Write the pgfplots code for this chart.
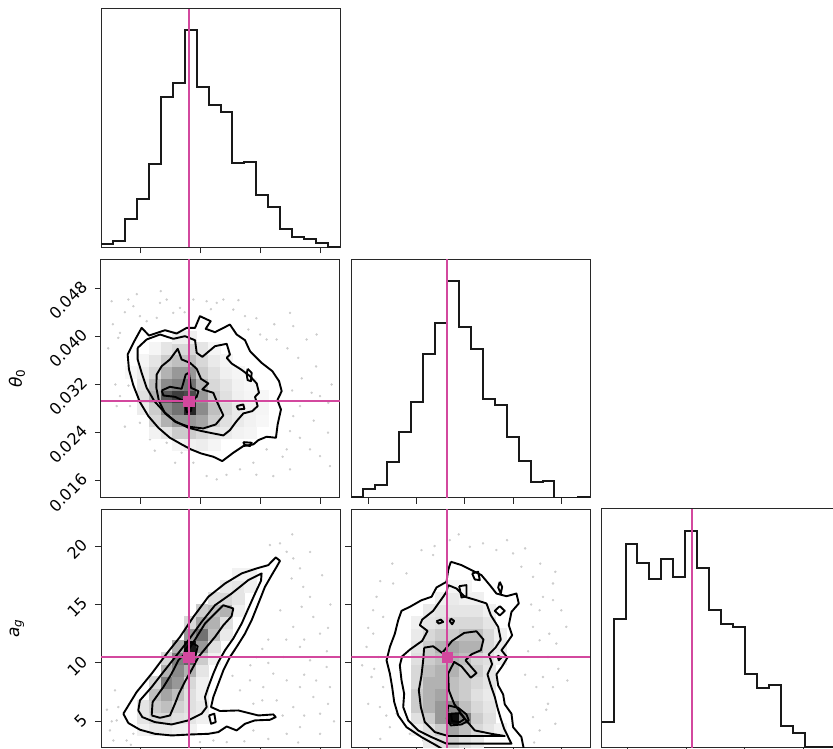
\documentclass[border=0pt]{standalone}
\usepackage{fontspec}
\setmainfont{DejaVu Sans}
\usepackage{pgfplots}
\pgfplotsset{compat=1.18}
\definecolor{truth}{RGB}{211,72,158}
\definecolor{frame}{RGB}{40,40,40}
\pgfplotsset{
  cpCorner/.style={
    scale only axis, width=239pt, height=238.5pt, anchor=south west,
    axis line style={line width=1pt, draw=frame},
    major tick length=6pt,
    tick style={line width=1pt, color=frame},
    tick align=outside, xtick pos=left, ytick pos=left,
    scaled ticks=false, clip marker paths=true,
    xticklabels={}, yticklabels={},
    tick label style={font=\fontsize{16}{19}\selectfont},
    label style={font=\fontsize{17}{20}\selectfont},
    ylabel style={at={(axis description cs:-0.352,0.5)}, anchor=center},
    yticklabel style={rotate=45, anchor=south east, inner sep=0pt},
    yticklabel shift=6pt,
  },
  cpTwoD/.style={colormap={bwg}{gray(0cm)=(1); gray(1cm)=(0)}, point meta min=0, point meta max=1},
  cpVx/.style={xmin=0, xmax=20, xtick={3.32,8.34,13.36,18.38}},
  cpTx/.style={xmin=0.0132, xmax=0.0528, xtick={0.016,0.024,0.032,0.040,0.048}},
  cpAx/.style={xmin=2.77, xmax=23.17, xtick={5,10,15,20}},
  cpTy/.style={ymin=0.0132, ymax=0.0528, ytick={0.016,0.024,0.032,0.040,0.048}},
  cpAy/.style={ymin=2.77, ymax=23.17, ytick={5,10,15,20}},
  cpHist/.style={ymin=0, ymax=715, ytick=\empty},
  cpHline/.style={const plot mark left, black!90, line width=2pt},
  cpCont/.style={black, line width=1.9pt, line join=round},
  cpTline/.style={truth, line width=2pt},
  cpTmark/.style={only marks, mark=square*, mark size=5.3pt, truth},
  cpPts/.style={only marks, mark=*, mark size=1pt, black!20},
  cpCells/.style={scatter, only marks, mark=square*, mark size=6pt,
    scatter/use mapped color={draw=mapped color, fill=mapped color}},
}
\begin{document}
\begin{tikzpicture}

% ---------- (1,1) histogram of var 1
\begin{axis}[cpCorner, cpHist, cpVx, at={(101pt,500.7pt)}]
\addplot[cpHline] coordinates {(0,9)(1,19)(2,85)(3,145)(4,250)(5,450)(6,492)(7,650)(8,482)(9,427)(10,407)(11,252)(12,257)(13,157)(14,120)(15,54)(16,32)(17,24)(18,12)(19,2)(20,2)};
\addplot[cpTline] coordinates {(7.36,0)(7.36,715)};
\end{axis}

% ---------- (2,1) var1 vs theta0
\begin{axis}[cpCorner, cpTwoD, cpVx, cpTy, at={(101pt,250.3pt)},
  yticklabels={0.016,0.024,0.032,0.040,0.048},
  ylabel={\textit{θ}\textsubscript{0}}]
\addplot[cpPts] coordinates {(0.89,0.04583)(1.45,0.03974)(1.59,0.04057)(2.29,0.04610)(2.71,0.04500)(3.26,0.04334)(3.82,0.04251)(4.66,0.04306)(4.94,0.04555)(5.50,0.04610)(6.05,0.04389)(6.61,0.04472)(7.73,0.04610)(8.84,0.04583)(9.68,0.04555)(10.24,0.04610)(11.07,0.04444)(12.05,0.04334)(12.33,0.04112)(13.31,0.04030)(13.86,0.03947)(14.70,0.03947)(15.82,0.04389)(16.09,0.04168)(16.51,0.03642)(17.21,0.03947)(18.05,0.04030)(17.63,0.03062)(18.33,0.03006)(19.02,0.02896)(16.65,0.02841)(16.09,0.02675)(15.82,0.02426)(16.65,0.02315)(17.49,0.02122)(18.33,0.02011)(15.54,0.02122)(13.86,0.02122)(12.75,0.01900)(11.63,0.01790)(9.68,0.01624)(8.84,0.01679)(7.73,0.01900)(6.75,0.02066)(5.50,0.02232)(4.80,0.02343)(4.10,0.02288)(3.26,0.02564)(2.43,0.02841)(1.59,0.03006)(1.31,0.02841)(2.30,0.03180)(2.10,0.03394)(15.82,0.01790)(19.16,0.01845)(14.42,0.01679)(1.0,0.0420)(0.6,0.0380)(2.0,0.0440)(3.0,0.0470)(5.0,0.0475)(7.0,0.0440)(9.2,0.0445)(11.5,0.0460)(13.0,0.0430)(14.5,0.0420)(16.8,0.0330)(18.0,0.0350)(19.3,0.0320)(17.8,0.0260)(19.0,0.0240)(15.2,0.0200)(13.0,0.0170)(10.5,0.0170)(6.2,0.0190)(4.5,0.0210)(2.0,0.0250)(1.2,0.0320)(16.0,0.0310)(15.6,0.0380)};
\addplot[cpCells, point meta=explicit] table[x=x, y=y, meta=c] {
x y c
6.5 0.02211 0.04
7.5 0.02211 0.06
8.5 0.02211 0.07
9.5 0.02211 0.04
4.5 0.02409 0.05
5.5 0.02409 0.10
6.5 0.02409 0.20
7.5 0.02409 0.20
8.5 0.02409 0.15
9.5 0.02409 0.10
10.5 0.02409 0.08
11.5 0.02409 0.05
12.5 0.02409 0.04
4.5 0.02607 0.15
5.5 0.02607 0.30
6.5 0.02607 0.40
7.5 0.02607 0.40
8.5 0.02607 0.35
9.5 0.02607 0.20
10.5 0.02607 0.12
11.5 0.02607 0.08
12.5 0.02607 0.05
13.5 0.02607 0.03
3.5 0.02805 0.07
4.5 0.02805 0.20
5.5 0.02805 0.45
6.5 0.02805 0.55
7.5 0.02805 0.85
8.5 0.02805 0.45
9.5 0.02805 0.25
10.5 0.02805 0.15
11.5 0.02805 0.08
12.5 0.02805 0.05
13.5 0.02805 0.04
3.5 0.03003 0.12
4.5 0.03003 0.30
5.5 0.03003 0.65
6.5 0.03003 0.75
7.5 0.03003 0.70
8.5 0.03003 0.40
9.5 0.03003 0.20
10.5 0.03003 0.12
11.5 0.03003 0.06
12.5 0.03003 0.04
13.5 0.03003 0.03
3.5 0.03201 0.10
4.5 0.03201 0.25
5.5 0.03201 0.45
6.5 0.03201 0.50
7.5 0.03201 0.55
8.5 0.03201 0.30
9.5 0.03201 0.15
10.5 0.03201 0.10
11.5 0.03201 0.05
12.5 0.03201 0.03
2.5 0.03399 0.03
3.5 0.03399 0.07
4.5 0.03399 0.15
5.5 0.03399 0.30
6.5 0.03399 0.40
7.5 0.03399 0.40
8.5 0.03399 0.20
9.5 0.03399 0.12
10.5 0.03399 0.06
11.5 0.03399 0.04
3.5 0.03597 0.04
4.5 0.03597 0.10
5.5 0.03597 0.20
6.5 0.03597 0.25
7.5 0.03597 0.25
8.5 0.03597 0.15
9.5 0.03597 0.08
10.5 0.03597 0.04
4.5 0.03795 0.04
5.5 0.03795 0.10
6.5 0.03795 0.15
7.5 0.03795 0.15
8.5 0.03795 0.10
9.5 0.03795 0.04
6.5 0.03993 0.06
7.5 0.03993 0.06
};
\addplot[cpCont] coordinates {(2.23,0.03698)(2.71,0.03891)(3.40,0.04140)(4.02,0.04013)(5.36,0.04101)(6.33,0.04046)(7.17,0.04140)(7.87,0.04140)(8.28,0.04334)(9.18,0.04251)(8.76,0.04124)(9.54,0.04068)(10.79,0.04195)(11.35,0.04030)(12.05,0.03935)(12.47,0.03753)(13.44,0.03559)(14.34,0.03421)(14.90,0.03255)(15.12,0.03089)(14.76,0.02940)(15.06,0.02785)(14.78,0.02536)(14.64,0.02315)(13.86,0.02332)(13.17,0.02276)(12.75,0.02205)(11.91,0.02177)(11.07,0.02066)(10.15,0.01928)(9.40,0.02000)(8.37,0.02055)(7.53,0.02122)(6.75,0.02205)(5.77,0.02315)(4.80,0.02481)(3.96,0.02675)(3.26,0.02907)(2.71,0.03183)(2.34,0.03449)(2.23,0.03698)};
\addplot[cpCont] coordinates {(3.07,0.03808)(3.82,0.03947)(4.94,0.04030)(6.05,0.03958)(7.03,0.04002)(7.87,0.03935)(8.01,0.03725)(8.48,0.03659)(9.54,0.03836)(10.52,0.03875)(10.79,0.03698)(10.52,0.03642)(10.93,0.03548)(11.72,0.03449)(12.47,0.03338)(13.03,0.03217)(13.22,0.03062)(12.89,0.02995)(13.11,0.02841)(12.66,0.02758)(11.91,0.02719)(11.35,0.02592)(10.79,0.02442)(10.24,0.02354)(9.40,0.02387)(8.42,0.02426)(7.31,0.02481)(6.19,0.02592)(5.30,0.02741)(4.46,0.02924)(3.82,0.03145)(3.40,0.03394)(3.07,0.03615)(3.07,0.03808)};
\addplot[cpCont] coordinates {(4.66,0.03366)(5.08,0.03504)(5.77,0.03615)(6.42,0.03792)(6.75,0.03615)(7.45,0.03559)(8.01,0.03460)(8.37,0.03294)(8.98,0.03217)(8.48,0.03117)(9.40,0.03062)(9.68,0.02924)(10.24,0.02686)(9.60,0.02536)(8.56,0.02470)(7.36,0.02498)(6.25,0.02575)(5.36,0.02719)(4.85,0.02924)(4.63,0.03145)(4.66,0.03366)};
\addplot[cpCont] coordinates {(5.08,0.03100)(5.77,0.03161)(6.75,0.03128)(7.09,0.03366)(7.36,0.03394)(7.53,0.03145)(8.15,0.03089)(8.01,0.02995)(7.64,0.02940)(7.53,0.02758)(7.17,0.02741)(6.97,0.02924)(6.19,0.02995)(5.22,0.03017)(5.08,0.03100)};
\addplot[cpCont] coordinates {(12.27,0.03460)(12.61,0.03394)(12.55,0.03255)(12.27,0.03272)(12.19,0.03366)(12.27,0.03460)};
\addplot[cpCont] coordinates {(11.35,0.02841)(11.91,0.02868)(12.00,0.02796)(11.49,0.02785)(11.35,0.02841)};
\addplot[cpCont] coordinates {(11.91,0.02243)(12.61,0.02232)(12.47,0.02177)(12.00,0.02199)(11.91,0.02243)};
\addplot[cpTline] coordinates {(7.36,0.0132)(7.36,0.0528)};
\addplot[cpTline] coordinates {(0,0.0292)(20,0.0292)};
\addplot[cpTmark] coordinates {(7.36,0.0292)};
\end{axis}

% ---------- (2,2) histogram of theta0
\begin{axis}[cpCorner, cpHist, cpTx, at={(351.3pt,250.3pt)}]
\addplot[cpHline] coordinates {(0.0132,2)(0.01518,25)(0.01716,38)(0.01914,107)(0.02112,196)(0.0231,288)(0.02508,431)(0.02706,525)(0.02904,650)(0.03102,513)(0.033,445)(0.03498,296)(0.03696,278)(0.03894,183)(0.04092,110)(0.0429,46)(0.04488,51)(0.04686,0)(0.04884,0)(0.05082,2)(0.0528,2)};
\addplot[cpTline] coordinates {(0.0291,0)(0.0291,715)};
\end{axis}

% ---------- (3,1) var1 vs a_g
\begin{axis}[cpCorner, cpTwoD, cpVx, cpAy, at={(101pt,0.5pt)},
  yticklabels={5,10,15,20},
  ylabel={\textit{a}\textsubscript{\textit{g}}}]
\addplot[cpPts] coordinates {(14.14,20.09)(14.98,20.23)(15.54,19.51)(16.09,18.94)(16.65,18.09)(15.95,17.23)(16.93,16.51)(17.49,15.66)(16.79,14.80)(17.77,13.94)(16.09,13.09)(18.33,12.51)(16.65,11.37)(15.26,10.51)(17.49,10.23)(18.88,9.66)(14.42,9.09)(15.54,8.51)(16.65,7.94)(17.77,7.09)(18.33,5.66)(16.09,6.23)(14.70,6.80)(13.58,7.94)(12.47,8.51)(11.63,7.66)(12.75,6.51)(19.16,7.94)(16.65,4.51)(15.54,3.94)(18.33,3.94)(0.75,4.23)(1.31,5.09)(1.03,3.37)(2.15,3.37)(2.71,3.94)(12.75,4.23)(9.40,3.37)(8.28,3.23)(10.52,3.23)(1.17,7.66)(1.45,6.23)(13.00,10.50)(14.00,12.00)(15.00,14.50)(13.50,11.20)(17.00,12.00)(18.90,11.00)(19.50,5.00)(16.0,21.0)(17.5,19.5)(18.5,17.5)(19.2,15.0)(19.0,13.0)(15.5,12.0)(14.0,10.0)(12.5,9.8)(11.0,8.9)(17.0,9.0)(18.0,8.5)(13.5,6.8)(15.2,5.5)(17.0,5.5)(19.0,6.5)(14.0,3.5)(12.0,3.3)(0.5,6.0)(0.9,5.0)(2.5,3.0)(16.5,3.2)};
\addplot[cpCells, point meta=explicit] table[x=x, y=y, meta=c] {
x y c
3.5 4.30 0.05
4.5 4.30 0.08
5.5 4.30 0.08
6.5 4.30 0.06
7.5 4.30 0.05
3.5 5.32 0.10
4.5 5.32 0.15
5.5 5.32 0.15
6.5 5.32 0.12
7.5 5.32 0.10
8.5 5.32 0.06
3.5 6.34 0.10
4.5 6.34 0.20
5.5 6.34 0.25
6.5 6.34 0.18
7.5 6.34 0.12
8.5 6.34 0.08
4.5 7.36 0.25
5.5 7.36 0.35
6.5 7.36 0.25
7.5 7.36 0.12
8.5 7.36 0.06
4.5 8.38 0.15
5.5 8.38 0.50
6.5 8.38 0.40
7.5 8.38 0.15
8.5 8.38 0.06
5.5 9.40 0.30
6.5 9.40 0.45
7.5 9.40 0.30
8.5 9.40 0.10
5.5 10.42 0.15
6.5 10.42 0.50
7.5 10.42 0.60
8.5 10.42 0.20
9.5 10.42 0.06
6.5 11.44 0.30
7.5 11.44 0.90
8.5 11.44 0.40
9.5 11.44 0.12
7.5 12.46 0.40
8.5 12.46 0.55
9.5 12.46 0.25
10.5 12.46 0.08
7.5 13.48 0.15
8.5 13.48 0.35
9.5 13.48 0.30
10.5 13.48 0.12
8.5 14.50 0.20
9.5 14.50 0.25
10.5 14.50 0.30
11.5 14.50 0.06
9.5 15.52 0.12
10.5 15.52 0.15
11.5 15.52 0.10
10.5 16.54 0.08
11.5 16.54 0.10
12.5 16.54 0.06
11.5 17.56 0.05
12.5 17.56 0.05
};
\addplot[cpCont] coordinates {(1.87,5.66)(2.98,7.51)(4.24,9.09)(5.50,10.80)(6.61,12.23)(7.73,13.94)(8.98,15.66)(10.38,16.80)(11.77,17.66)(13.03,18.09)(14.00,18.37)(14.62,19.03)(14.98,18.74)(14.70,18.23)(14.28,17.51)(13.72,16.51)(13.17,15.09)(12.61,13.66)(12.05,12.51)(11.35,11.37)(10.79,10.51)(10.24,9.37)(9.82,8.23)(9.40,7.09)(9.21,6.23)(9.96,5.89)(11.49,5.94)(13.17,5.51)(14.42,5.60)(14.62,5.37)(14.14,5.14)(12.89,5.09)(12.05,4.80)(11.35,4.23)(10.52,4.57)(9.82,4.09)(8.98,3.94)(7.59,3.89)(5.91,3.80)(4.52,3.94)(3.26,4.29)(2.29,4.86)(1.87,5.66)};
\addplot[cpCont] coordinates {(3.12,5.94)(3.26,6.80)(4.24,7.94)(5.22,9.23)(6.33,10.66)(7.31,11.94)(8.42,13.51)(9.54,14.94)(10.93,15.94)(12.33,17.09)(13.44,17.66)(13.39,17.03)(12.89,15.94)(12.33,14.66)(11.77,13.37)(11.07,12.09)(10.38,11.09)(9.82,10.09)(9.40,9.09)(8.98,7.94)(8.70,7.09)(8.84,6.23)(8.42,5.66)(7.31,5.09)(5.91,4.74)(4.52,4.94)(3.46,5.37)(3.12,5.94)};
\addplot[cpCont] coordinates {(4.24,5.51)(4.32,6.66)(5.22,7.94)(5.91,9.09)(6.47,10.23)(7.31,11.09)(8.01,12.23)(8.70,13.37)(9.54,14.23)(10.24,14.94)(11.07,14.66)(10.93,14.00)(10.24,13.23)(9.54,12.23)(8.84,11.37)(8.15,10.51)(7.64,9.51)(7.08,8.51)(6.52,7.37)(6.19,6.51)(5.77,5.51)(4.94,5.31)(4.24,5.51)};
\addplot[cpCont] coordinates {(7.03,11.09)(7.53,11.80)(8.09,11.43)(7.92,10.66)(7.36,10.23)(6.92,10.51)(7.03,11.09)};
\addplot[cpCont] coordinates {(9.04,5.51)(9.48,5.66)(9.60,4.94)(9.21,4.80)(9.04,5.51)};
\addplot[cpTline] coordinates {(7.36,2.77)(7.36,23.17)};
\addplot[cpTline] coordinates {(0,10.48)(20,10.48)};
\addplot[cpTmark] coordinates {(7.36,10.48)};
\end{axis}

% ---------- (3,2) theta0 vs a_g
\begin{axis}[cpCorner, cpTwoD, cpTx, cpAy, at={(351.3pt,0.5pt)}]
\addplot[cpPts] coordinates {(0.02483,19.66)(0.02676,19.23)(0.02952,20.51)(0.03283,19.94)(0.03503,20.23)(0.03724,19.66)(0.04000,19.37)(0.04138,18.23)(0.04331,17.37)(0.04496,15.66)(0.04441,14.51)(0.04662,15.37)(0.04331,13.09)(0.04441,11.94)(0.04579,10.51)(0.04496,8.80)(0.04386,7.94)(0.04662,7.94)(0.04579,6.51)(0.04331,5.37)(0.04441,4.23)(0.02234,17.66)(0.02014,16.80)(0.01738,15.66)(0.01683,14.51)(0.01848,13.94)(0.01683,12.51)(0.01572,11.37)(0.01766,10.51)(0.01655,8.80)(0.01848,7.94)(0.01793,6.23)(0.02069,5.66)(0.02290,3.94)(0.02510,3.37)(0.01959,4.51)(0.04717,11.66)(0.04883,13.09)(0.04662,16.80)(0.0270,20.0)(0.0310,21.0)(0.0390,20.5)(0.0420,19.8)(0.0445,18.5)(0.0470,17.8)(0.0480,14.5)(0.0460,12.5)(0.0475,9.5)(0.0490,8.5)(0.0455,6.0)(0.0470,4.8)(0.0435,3.2)(0.0200,18.5)(0.0180,17.0)(0.0160,13.0)(0.0150,9.8)(0.0170,9.5)(0.0160,6.5)(0.0190,5.5)(0.0180,3.5)(0.0420,9.0)(0.0425,11.0)(0.0430,15.0)};
\addplot[cpCells, point meta=explicit] table[x=x, y=y, meta=c] {
x y c
0.02607 3.28 0.08
0.02805 3.28 0.12
0.03003 3.28 0.20
0.03201 3.28 0.12
0.03399 3.28 0.08
0.02409 4.30 0.06
0.02607 4.30 0.12
0.02805 4.30 0.20
0.03003 4.30 0.35
0.03201 4.30 0.25
0.03399 4.30 0.15
0.03597 4.30 0.10
0.03795 4.30 0.05
0.02409 5.32 0.12
0.02607 5.32 0.20
0.02805 5.32 0.40
0.03003 5.32 0.95
0.03201 5.32 0.50
0.03399 5.32 0.20
0.03597 5.32 0.12
0.02409 6.34 0.20
0.02607 6.34 0.30
0.02805 6.34 0.40
0.03003 6.34 0.45
0.03201 6.34 0.25
0.03399 6.34 0.15
0.03597 6.34 0.10
0.02409 7.36 0.20
0.02607 7.36 0.30
0.02805 7.36 0.35
0.03003 7.36 0.25
0.03201 7.36 0.20
0.03399 7.36 0.12
0.03597 7.36 0.08
0.02409 8.38 0.15
0.02607 8.38 0.30
0.02805 8.38 0.30
0.03003 8.38 0.25
0.03201 8.38 0.20
0.03399 8.38 0.15
0.03597 8.38 0.10
0.02409 9.40 0.15
0.02607 9.40 0.25
0.02805 9.40 0.30
0.03003 9.40 0.30
0.03201 9.40 0.20
0.03399 9.40 0.20
0.03597 9.40 0.10
0.02409 10.42 0.12
0.02607 10.42 0.20
0.02805 10.42 0.25
0.03003 10.42 0.30
0.03201 10.42 0.25
0.03399 10.42 0.15
0.03597 10.42 0.12
0.03795 10.42 0.06
0.02409 11.44 0.10
0.02607 11.44 0.20
0.02805 11.44 0.30
0.03003 11.44 0.35
0.03201 11.44 0.30
0.03399 11.44 0.30
0.03597 11.44 0.15
0.03795 11.44 0.08
0.02409 12.46 0.08
0.02607 12.46 0.15
0.02805 12.46 0.20
0.03003 12.46 0.20
0.03201 12.46 0.25
0.03399 12.46 0.25
0.03597 12.46 0.15
0.03795 12.46 0.06
0.02409 13.48 0.06
0.02607 13.48 0.10
0.02805 13.48 0.12
0.03003 13.48 0.15
0.03201 13.48 0.15
0.03399 13.48 0.15
0.03597 13.48 0.10
0.02607 14.50 0.08
0.02805 14.50 0.10
0.03003 14.50 0.10
0.03201 14.50 0.10
0.03399 14.50 0.10
0.03597 14.50 0.06
0.02805 15.52 0.06
0.03003 15.52 0.08
0.03201 15.52 0.06
0.03399 15.52 0.06
0.03003 16.54 0.04
0.03201 16.54 0.04
};
\addplot[cpCont] coordinates {(0.02969,18.66)(0.03146,18.37)(0.03311,17.94)(0.03477,17.51)(0.03615,16.66)(0.03725,15.94)(0.03891,15.71)(0.04056,15.94)(0.04095,15.09)(0.03974,14.37)(0.03929,13.23)(0.03985,12.37)(0.03891,11.66)(0.03808,11.09)(0.03907,10.46)(0.03819,9.71)(0.03725,9.03)(0.03753,8.09)(0.03836,7.31)(0.03863,6.46)(0.03974,5.66)(0.04001,4.51)(0.04139,3.66)(0.04183,2.51)(0.02870,2.51)(0.02732,2.94)(0.02483,3.66)(0.02235,4.51)(0.02097,5.51)(0.02031,6.66)(0.01997,7.94)(0.01959,9.09)(0.01904,10.23)(0.01959,11.37)(0.02042,12.51)(0.02097,13.66)(0.02152,14.46)(0.02290,14.80)(0.02483,15.37)(0.02649,15.66)(0.02732,16.46)(0.02897,16.94)(0.02925,17.94)(0.02969,18.66)};
\addplot[cpCont] coordinates {(0.02925,16.66)(0.03063,16.37)(0.03201,15.66)(0.03394,15.37)(0.03560,15.09)(0.03631,14.09)(0.03753,13.09)(0.03797,12.00)(0.03709,11.31)(0.03598,10.74)(0.03653,9.89)(0.03576,9.03)(0.03631,8.09)(0.03698,7.09)(0.03742,6.17)(0.03797,5.23)(0.03852,4.37)(0.03974,3.10)(0.02897,3.10)(0.02649,3.66)(0.02428,4.23)(0.02262,5.09)(0.02180,6.23)(0.02196,7.37)(0.02152,8.51)(0.02124,9.80)(0.02163,10.57)(0.02290,11.14)(0.02494,11.89)(0.02583,12.74)(0.02456,13.23)(0.02494,13.71)(0.02676,14.46)(0.02842,15.66)(0.02897,16.09)(0.02925,16.66)};
\addplot[cpCont] coordinates {(0.02527,11.31)(0.02676,11.43)(0.02825,10.86)(0.02991,11.89)(0.03190,12.57)(0.03394,12.71)(0.03510,12.00)(0.03466,11.09)(0.03311,10.74)(0.03212,10.23)(0.03394,9.14)(0.03300,8.74)(0.03146,9.71)(0.03024,10.09)(0.02925,9.09)(0.02936,7.66)(0.03024,6.51)(0.03201,5.23)(0.03366,4.23)(0.03642,3.94)(0.03863,3.75)(0.02925,3.75)(0.02704,4.09)(0.02538,4.94)(0.02472,6.23)(0.02439,7.66)(0.02483,8.94)(0.02511,10.23)(0.02527,11.31)};
\addplot[cpCont] coordinates {(0.02925,6.37)(0.03090,6.17)(0.03228,5.60)(0.03267,5.09)(0.03146,4.74)(0.02969,4.66)(0.02903,5.23)(0.02925,6.37)};
\addplot[cpCont] coordinates {(0.02969,5.66)(0.03118,5.71)(0.03201,5.23)(0.03118,4.94)(0.02991,5.03)(0.02969,5.66)};
\addplot[cpCont] coordinates {(0.03107,16.57)(0.03228,16.66)(0.03228,15.71)(0.03146,15.60)(0.03107,16.57)};
\addplot[cpCont] coordinates {(0.03322,17.66)(0.03422,17.80)(0.03449,17.09)(0.03366,17.14)(0.03322,17.66)};
\addplot[cpCont] coordinates {(0.03780,16.94)(0.03819,16.51)(0.03797,15.94)(0.03753,16.46)(0.03780,16.94)};
\addplot[cpCont] coordinates {(0.03780,14.86)(0.03863,14.46)(0.03780,14.06)(0.03698,14.46)(0.03780,14.86)};
\addplot[cpCont] coordinates {(0.02732,13.57)(0.02803,13.71)(0.02842,13.51)(0.02770,13.37)(0.02732,13.57)};
\addplot[cpCont] coordinates {(0.02969,13.80)(0.03024,13.60)(0.02991,13.31)(0.02952,13.57)(0.02969,13.80)};
\addplot[cpCont] coordinates {(0.03742,10.63)(0.03808,10.46)(0.03764,10.23)(0.03742,10.63)};
\addplot[cpTline] coordinates {(0.0291,2.77)(0.0291,23.17)};
\addplot[cpTline] coordinates {(0.0132,10.48)(0.0528,10.48)};
\addplot[cpTmark] coordinates {(0.0291,10.48)};
\end{axis}

% ---------- (3,3) histogram of a_g
\begin{axis}[cpCorner, cpHist, cpAx, at={(601.6pt,0.5pt)}]
\addplot[cpHline] coordinates {(2.77,76)(3.79,386)(4.81,611)(5.83,554)(6.85,504)(7.87,564)(8.89,511)(9.91,648)(10.93,539)(11.95,411)(12.97,371)(13.99,361)(15.01,219)(16.03,178)(17.05,188)(18.07,63)(19.09,43)(20.11,1)(21.13,3)(22.15,1)(23.17,1)};
\addplot[cpTline] coordinates {(10.5,0)(10.5,715)};
\end{axis}

\pgfresetboundingbox
\useasboundingbox (0pt,0pt) rectangle (833pt,748pt);
\end{tikzpicture}
\end{document}
